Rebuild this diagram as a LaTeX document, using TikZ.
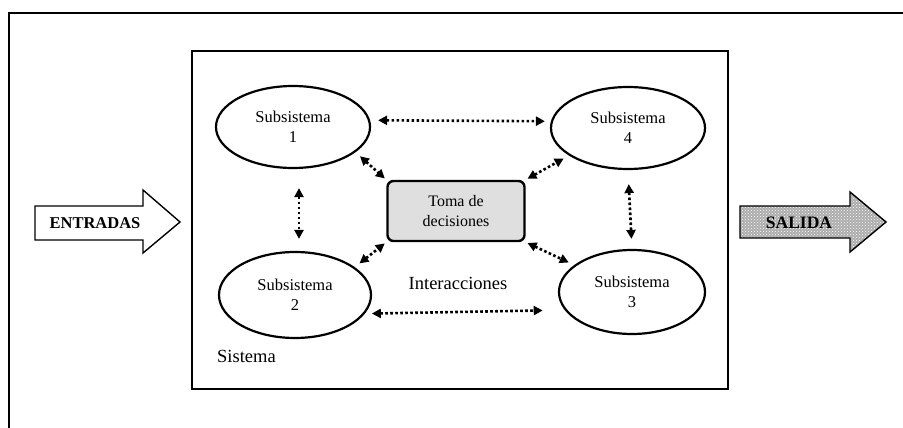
\documentclass[tikz,border=0pt]{standalone}
\usepackage{fontspec}
\setmainfont{Liberation Serif}
\usetikzlibrary{arrows.meta,patterns,shapes.geometric}
\begin{document}
\begin{tikzpicture}[x=1pt,y=-1pt,
  sub/.style={draw,line width=2.2pt,ellipse,minimum width=154pt,minimum height=82pt,
    inner sep=0pt,align=center,font=\fontsize{16.5}{20}\selectfont},
  tip/.tip={Triangle[length=9pt,width=9pt]},
  link/.style={line width=2.6pt,dash pattern=on 2.6pt off 2.4pt,tip-tip},
  blockarrow/.style={draw,line width=1.4pt,line join=miter},
  label/.style={inner sep=0pt,font=\fontsize{18.5}{22}\selectfont}]
  \useasboundingbox (0,0) rectangle (903,428);

  % outer frame (open at the right and bottom)
  \draw[line width=1.3pt] (9,428) -- (9,13) -- (903,13);

  % system box
  \draw[line width=1.1pt] (192,51) rectangle (728,389);
  \draw[line width=2pt] (192,389) -- (728,389);

  % subsystems
  \node[sub] (e1) at (293,127) {Subsistema\\1};
  \node[sub] (e4) at (628,128) {Subsistema\\4};
  \node[sub,minimum width=152pt,minimum height=86pt] (e2) at (295,295) {Subsistema\\2};
  \node[sub,minimum width=146pt,minimum height=84pt] (e3) at (632,292) {Subsistema\\3};

  % decision block
  \node[draw,line width=2.4pt,rounded corners=6pt,fill=gray!25,minimum width=137pt,
    minimum height=60pt,inner sep=0pt,align=center,font=\fontsize{16}{20}\selectfont]
    (tm) at (456,211) {Toma de\\decisiones};

  % interactions
  \draw[link,shorten <=8pt,shorten >=6pt] (e1.5) -- (e4.175);
  \draw[link,shorten <=7pt,shorten >=22pt] (e2.-15) -- (e3.195);
  \draw[link,shorten <=19pt,shorten >=12pt] ([xshift=6pt]e1.south) -- ([xshift=4pt]e2.north);
  \draw[link,shorten <=14pt,shorten >=10pt] (e4.south) -- (e3.north);
  \draw[link,shorten <=6pt,shorten >=2pt] (e1.-22) -- (tm.north west);
  \draw[link,shorten <=2pt,shorten >=6pt] (tm.north east) -- (e4.205);
  \draw[link,shorten <=6pt,shorten >=2pt] (e2.25) -- (tm.south west);
  \draw[link,shorten <=2pt,shorten >=6pt] (tm.south east) -- (e3.155);

  \node[label] (int) at (458,283) {Interacciones};
  \node[label,anchor=west] (sis) at (217,356) {Sistema};

  % input arrow
  \draw[blockarrow,fill=white] (35,206) -- (143,206) -- (143,190) -- (180,222)
    -- (143,253) -- (143,240) -- (35,240) -- cycle;
  \node[inner sep=0pt,font=\fontsize{16.5}{20}\bfseries\selectfont] (in) at (95,223) {ENTRADAS};

  % output arrow, dotted grey fill
  \fill[gray!65] (740,206) -- (850,206) -- (850,192) -- (886,222)
    -- (850,252) -- (850,238) -- (740,238) -- cycle;
  \fill[pattern=crosshatch dots,pattern color=white] (740,206) -- (850,206) -- (850,192) -- (886,222)
    -- (850,252) -- (850,238) -- (740,238) -- cycle;
  \draw[blockarrow] (740,206) -- (850,206) -- (850,192) -- (886,222)
    -- (850,252) -- (850,238) -- (740,238) -- cycle;
  \node[inner sep=0pt,font=\fontsize{17.5}{20}\bfseries\selectfont] (out) at (799,223) {SALIDA};
\end{tikzpicture}
\end{document}
